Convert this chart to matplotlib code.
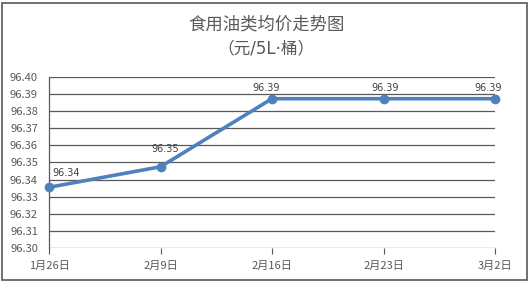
import matplotlib
matplotlib.use("Agg")
import matplotlib.pyplot as plt
from matplotlib.patches import Rectangle

plt.rcParams['font.family'] = ['Noto Sans CJK SC', 'DejaVu Sans']

# data
dates = ["1月26日", "2月9日", "2月16日", "2月23日", "3月2日"]
prices = [96.3355, 96.3475, 96.3873, 96.3873, 96.3873]
labels = ["96.34", "96.35", "96.39", "96.39", "96.39"]
yticks = [96.30, 96.31, 96.32, 96.33, 96.34, 96.35, 96.36, 96.37, 96.38, 96.39, 96.40]

# label nudges in pixels (dx, dy)
nudges = [(17, 14), (5, 18), (-6, 11), (2, 11), (-7, 11)]

fig = plt.figure(figsize=(5.30, 2.83), dpi=100)
fig.patch.set_facecolor("white")
fig.add_artist(Rectangle((0.004, 0.01), 0.99, 0.98, transform=fig.transFigure,
                         fill=False, edgecolor="#595959", linewidth=1.2))

ax = fig.add_axes([0.0925, 0.1237, 0.8415, 0.6043])

x = list(range(len(dates)))
ax.plot(x, prices, color="#4F81BD", linewidth=2.6, marker="o", markersize=6,
        zorder=3, clip_on=False)

for xi, yi, lab, (dx, dy) in zip(x, prices, labels, nudges):
    ax.annotate(lab, (xi, yi), xytext=(dx * 0.72, dy * 0.72), textcoords="offset points",
                ha="center", va="center", fontsize=7, color="#404040",
                family=['DejaVu Sans'])

ax.set_xlim(0, len(dates) - 1)
ax.set_ylim(96.30, 96.40)
ax.set_yticks(yticks)
ax.set_yticklabels([f"{v:.2f}" for v in yticks])
ax.set_xticks(x)
ax.set_xticklabels(dates)
ax.grid(axis="y", color="#595959", linewidth=0.9)
ax.set_axisbelow(True)

for s in ["top", "right", "bottom"]:
    ax.spines[s].set_visible(False)
ax.spines["left"].set_color("#595959")
ax.spines["left"].set_linewidth(0.9)
ax.tick_params(axis="y", length=0, labelsize=8, labelcolor="#595959", pad=8)
ax.tick_params(axis="x", length=4, color="#595959", labelsize=8,
               labelcolor="#595959", pad=5)

fig.text(0.502, 0.912, "食用油类均价走势图", ha="center", va="center",
         fontsize=12.5, color="#595959")
fig.text(0.502, 0.83, "（元/5L·桶）", ha="center", va="center",
         fontsize=12, color="#595959", family=['DejaVu Sans', 'Noto Sans CJK SC'])

fig.savefig("out.png", dpi=100, facecolor="white")
